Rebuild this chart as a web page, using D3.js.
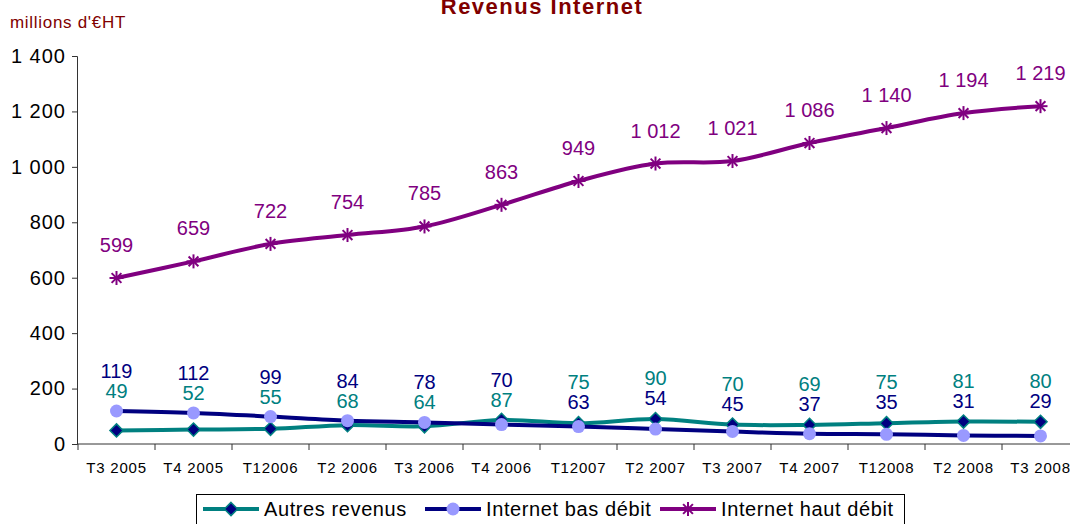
<!DOCTYPE html>
<html>
<head>
<meta charset="utf-8">
<script src="https://cdn.jsdelivr.net/npm/d3@7"></script>
<style>
  body { margin: 0; background: #fff; }
  text { font-family: "Liberation Sans", Arial, sans-serif; }
</style>
</head>
<body>
<svg id="chart" width="1070" height="524"></svg>
<script>
// quarters
var quarters = ["T3 2005", "T4 2005", "T12006", "T2 2006", "T3 2006", "T4 2006", "T12007",
	"T2 2007", "T3 2007", "T4 2007", "T12008", "T2 2008", "T3 2008"];
// millions d'euros HT
var autresRevenus = [49, 52, 55, 68, 64, 87, 75, 90, 70, 69, 75, 81, 80];
var basDebit = [119, 112, 99, 84, 78, 70, 63, 54, 45, 37, 35, 31, 29];
var hautDebit = [599, 659, 722, 754, 785, 863, 949, 1012, 1021, 1086, 1140, 1194, 1219];
var yTicks = [0, 200, 400, 600, 800, 1000, 1200, 1400];

var svg = d3.select("#chart");
var plotLeft = 77, plotTop = 56, plotBottom = 444;

var x = d3.scaleBand().domain(quarters).range([plotLeft + 1, plotLeft + 1 + 13 * 77]);
var y = d3.scaleLinear().domain([0, 1400]).range([plotBottom, plotTop]);
var fmt = function(v) { return d3.format(",")(v).replace(/,/g, " "); };
var cx = function(i) { return x(quarters[i]) + x.bandwidth() / 2; };

// title + unit
svg.append("text").attr("x", 542).attr("y", 14).attr("text-anchor", "middle")
	.attr("font-size", 22).attr("font-weight", "bold").attr("fill", "#800000")
	.attr("letter-spacing", 1.5)
	.text("Revenus Internet");
svg.append("text").attr("x", 10).attr("y", 28).attr("font-size", 17)
	.attr("fill", "#800000").attr("letter-spacing", 0.7).text("millions d'€HT");

// y axis
var yAxis = svg.append("g").attr("transform", "translate(" + plotLeft + ",0)")
	.call(d3.axisLeft(y).tickValues(yTicks).tickFormat(fmt).tickSizeOuter(0).tickSize(5).tickPadding(6));
yAxis.select(".domain").attr("stroke", "#333");
yAxis.selectAll(".tick line").attr("stroke", "#333");
yAxis.selectAll("text").attr("font-size", 20).attr("letter-spacing", 1).attr("fill", "#000")
	.attr("font-family", "Liberation Sans, Arial, sans-serif");

// x axis
var xAxis = svg.append("g").attr("transform", "translate(0," + plotBottom + ")")
	.call(d3.axisBottom(x).tickSize(0).tickPadding(18));
xAxis.select(".domain").attr("d", "M" + plotLeft + ",0H1070").attr("stroke", "#333");
xAxis.selectAll("text").attr("font-size", 15).attr("letter-spacing", 0.8).attr("fill", "#000")
	.attr("font-family", "Liberation Sans, Arial, sans-serif");
xAxis.selectAll(".bnd").data(d3.range(14)).enter().append("line")
	.attr("x1", function(i) { return plotLeft + 1 + i * x.bandwidth(); })
	.attr("x2", function(i) { return plotLeft + 1 + i * x.bandwidth(); })
	.attr("y1", 0).attr("y2", 6).attr("stroke", "#333");

var line = d3.line()
	.x(function(d, i) { return cx(i); })
	.y(function(d) { return y(d); })
	.curve(d3.curveCatmullRom.alpha(0.5));

var series = [
	{ name: "Autres revenus", values: autresRevenus, color: "#008080", marker: "diamond" },
	{ name: "Internet bas débit", values: basDebit, color: "#000080", marker: "circle" },
	{ name: "Internet haut débit", values: hautDebit, color: "#800080", marker: "star" }
];

function drawMarker(g, type, px, py) {
	if (type == "diamond") {
		g.append("path").attr("d", d3.symbol().type(d3.symbolDiamond2).size(110)())
			.attr("transform", "translate(" + px + "," + py + ")")
			.attr("fill", "#000080").attr("stroke", "#008080").attr("stroke-width", 1.5);
	} else if (type == "circle") {
		g.append("circle").attr("cx", px).attr("cy", py).attr("r", 6.5).attr("fill", "#9999ff");
	} else {
		var r = 7;
		[[-r, 0, r, 0], [-r * 0.7, -r * 0.7, r * 0.7, r * 0.7], [-r * 0.7, r * 0.7, r * 0.7, -r * 0.7], [0, -r, 0, r]]
			.forEach(function(s) {
				g.append("line").attr("x1", px + s[0]).attr("y1", py + s[1])
					.attr("x2", px + s[2]).attr("y2", py + s[3])
					.attr("stroke", "#800080").attr("stroke-width", 2);
			});
	}
}

series.forEach(function(s) {
	var g = svg.append("g");
	g.append("path").datum(s.values).attr("d", line)
		.attr("fill", "none").attr("stroke", s.color).attr("stroke-width", 4);
	s.values.forEach(function(v, i) { drawMarker(g, s.marker, cx(i), y(v)); });
});

// data labels
var labels = svg.append("g").attr("font-size", 20).attr("text-anchor", "middle");
hautDebit.forEach(function(v, i) {
	labels.append("text").attr("x", cx(i)).attr("y", y(v) - 26).attr("fill", "#800080").text(fmt(v));
});
quarters.forEach(function(q, i) {
	var topY = y(Math.max(autresRevenus[i], basDebit[i]));
	var navyFirst = i < 6;
	labels.append("text").attr("x", cx(i)).attr("y", topY - (navyFirst ? 33 : 14))
		.attr("fill", "#000080").text(basDebit[i]);
	labels.append("text").attr("x", cx(i)).attr("y", topY - (navyFirst ? 13 : 34))
		.attr("fill", "#008080").text(autresRevenus[i]);
});

// legend
var lg = svg.append("g");
lg.append("rect").attr("x", 196.5).attr("y", 494.5).attr("width", 708).attr("height", 40)
	.attr("fill", "#fff").attr("stroke", "#000");
var legendX = [203, 425, 660];
series.forEach(function(s, i) {
	var lx = legendX[i], ly = 509;
	lg.append("line").attr("x1", lx).attr("x2", lx + 56).attr("y1", ly).attr("y2", ly)
		.attr("stroke", s.color).attr("stroke-width", 4);
	drawMarker(lg, s.marker, lx + 28, ly);
	lg.append("text").attr("x", lx + 61).attr("y", ly + 7).attr("font-size", 20)
		.attr("letter-spacing", 0.6).text(s.name);
});
</script>
</body>
</html>
